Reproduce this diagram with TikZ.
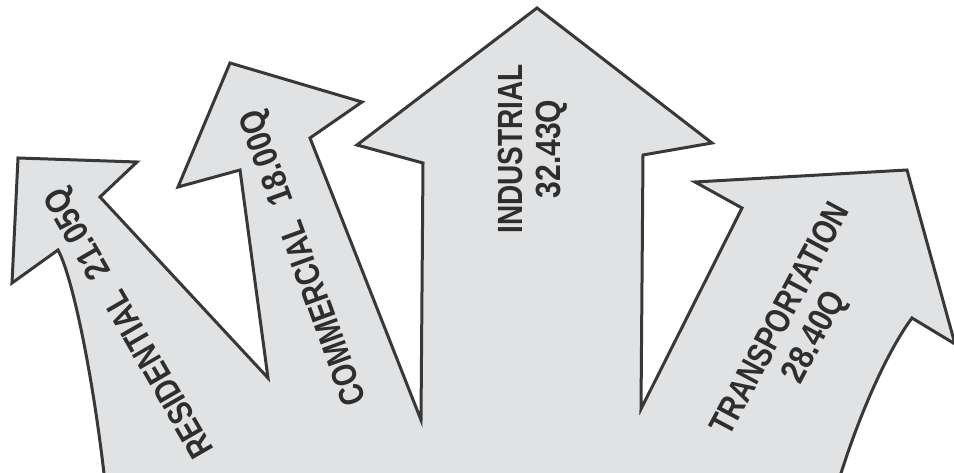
\documentclass[tikz,border=0pt]{standalone}
\usepackage{fontspec}
\setmainfont{Liberation Sans}
\newfontfamily\wordfont{Liberation Sans}[FakeStretch=0.80,UprightFont=*-Bold]
\newfontfamily\numfont{Liberation Sans}[FakeStretch=0.86,UprightFont=*-Bold]
\definecolor{arrowfill}{HTML}{E1E2E4}
\definecolor{arrowline}{HTML}{383838}
\definecolor{labeltext}{HTML}{2E2E2E}
\begin{document}
\begin{tikzpicture}[x=1bp,y=-1bp,
  flow/.style={fill=arrowfill,draw=arrowline,line width=3bp,line join=miter},
  label/.style={text=labeltext,inner sep=0pt,align=center,font=\fontsize{35bp}{38bp}\selectfont}]
\useasboundingbox (0,0) rectangle (954,473);
\clip (0,0) rectangle (954,473);
\fill[white] (0,0) rectangle (954,473);
\draw[flow] (108,510) .. controls (95,380) and (72,275) .. (58,250)
  -- (12,283) -- (18,158) -- (137,162) -- (100,197)
  -- (268,378)
  -- (240,170) -- (178,187) -- (230,63) -- (362,102) -- (310,138)
  -- (421,420)
  -- (423,163) -- (357,145) -- (537,8) -- (712,143) -- (643,155)
  -- (641,409)
  -- (742,208) -- (695,182) -- (907,170) -- (955,344) -- (912,318)
  .. controls (888,350) and (855,420) .. (830,510)
  -- cycle;
\node[label,rotate=120] (res) at (131,322) {{\wordfont RESIDENTIAL}\ \ {\numfont 21.05Q}};
\node[label,rotate=110] (com) at (305,257) {{\wordfont COMMERCIAL}\ \ {\numfont 18.00Q}};
\node[label,rotate=90] (ind) at (533,149) {{\wordfont INDUSTRIAL}\\{\numfont 32.43Q}};
\node[label,rotate=62] (tra) at (799,329) {{\wordfont TRANSPORTATION}\\{\numfont 28.40Q}};
\end{tikzpicture}
\end{document}
